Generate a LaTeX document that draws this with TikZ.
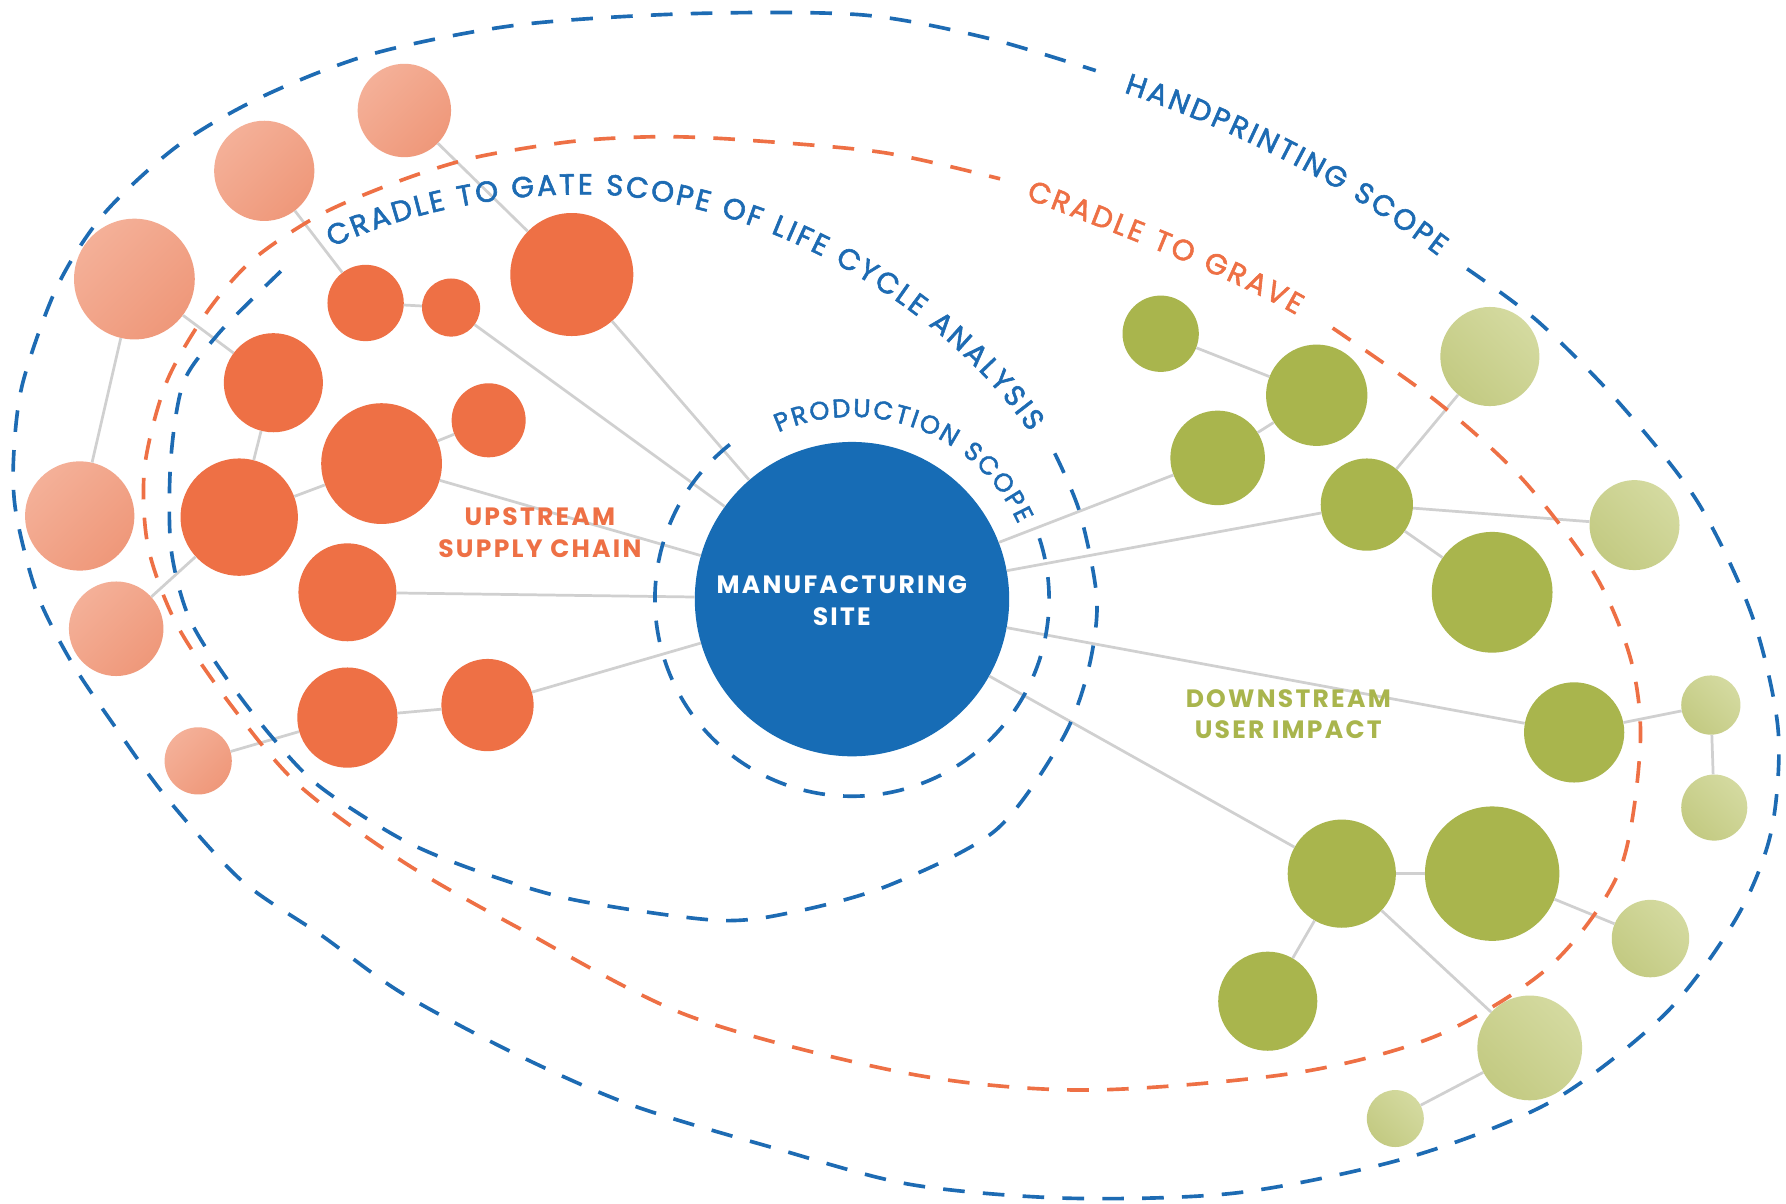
\documentclass[tikz,border=0pt]{standalone}
\usepackage{fontspec}
\usetikzlibrary{decorations.text}
\newfontfamily\poppinsarc{Poppins}[FakeBold=2]
\newfontfamily\poppinswide{Poppins}[LetterSpace=9]
\newcommand\arcfont{\poppinsarc\fontsize{25.5}{25.5}\selectfont\kern2.5pt}
\newcommand\smallarcfont{\poppinsarc\fontsize{22.5}{22.5}\selectfont\kern2.5pt}
\newcommand\labelfont{\poppinswide\bfseries\fontsize{22}{28}\selectfont}

\definecolor{scopeblue}{HTML}{1D6BB3}
\definecolor{siteblue}{HTML}{176CB5}
\definecolor{upred}{HTML}{EE7045}
\definecolor{upsoftA}{HTML}{F4B098}
\definecolor{upsoftB}{HTML}{EF987A}
\definecolor{downgreen}{HTML}{A9B54D}
\definecolor{downsoftA}{HTML}{D4DAA0}
\definecolor{downsoftB}{HTML}{C3CA82}
\definecolor{linkgray}{HTML}{D0D0D0}

\tikzset{
  bubble/.style={circle, inner sep=0pt, draw=none},
  up/.style={bubble, fill=upred},
  upsoft/.style={bubble, top color=upsoftA, bottom color=upsoftB, shading angle=45},
  down/.style={bubble, fill=downgreen},
  downsoft/.style={bubble, top color=downsoftA, bottom color=downsoftB, shading angle=-45},
  link/.style={draw=linkgray, line width=2.4pt},
  scope/.style={line width=3.2pt, dash pattern=on 19pt off 16pt},
  arclabel/.style n args={3}{decorate, decoration={text along path, text={|#2|#3},
      text color=#1, text align=center, raise=-7pt}}
}

\begin{document}
\begin{tikzpicture}[x=1pt, y=-1pt]
\useasboundingbox (0,0) rectangle (1568,1057);
\fill[white] (0,0) rectangle (1568,1057);
\coordinate (hub) at (748,526);

% upstream bubbles
\node[upsoft, minimum size=82pt] (l1) at (355,97) {};
\node[upsoft, minimum size=88pt] (l2) at (232,150) {};
\node[upsoft, minimum size=106pt] (l3) at (118,245) {};
\node[upsoft, minimum size=96pt] (l4) at (70,453) {};
\node[upsoft, minimum size=83pt] (l5) at (102,552) {};
\node[upsoft, minimum size=59pt] (l6) at (174,668) {};
\node[up, minimum size=108pt] (o1) at (502,241) {};
\node[up, minimum size=67pt] (o2) at (321,266) {};
\node[up, minimum size=51pt] (o3) at (396,270) {};
\node[up, minimum size=87pt] (o4) at (240,336) {};
\node[up, minimum size=106pt] (o5) at (335,407) {};
\node[up, minimum size=65pt] (o6) at (429,369) {};
\node[up, minimum size=103pt] (o7) at (210,454) {};
\node[up, minimum size=86pt] (o8) at (305,520) {};
\node[up, minimum size=88pt] (o9) at (305,630) {};
\node[up, minimum size=81pt] (o10) at (428,619) {};

% site
\node[bubble, fill=siteblue, minimum size=276pt] (site) at (hub) {};

% downstream bubbles
\node[down, minimum size=67pt] (g1) at (1019,293) {};
\node[down, minimum size=89pt] (g2) at (1156,347) {};
\node[down, minimum size=83pt] (g3) at (1069,402) {};
\node[down, minimum size=81pt] (g4) at (1200,443) {};
\node[down, minimum size=106pt] (g5) at (1310,520) {};
\node[down, minimum size=88pt] (g6) at (1382,643) {};
\node[down, minimum size=95pt] (g7) at (1178,767) {};
\node[down, minimum size=118pt] (g8) at (1310,767) {};
\node[down, minimum size=87pt] (g9) at (1113,879) {};
\node[downsoft, minimum size=87pt] (lg1) at (1308,313) {};
\node[downsoft, minimum size=79pt] (lg2) at (1435,461) {};
\node[downsoft, minimum size=52pt] (lg3) at (1502,619) {};
\node[downsoft, minimum size=58pt] (lg4) at (1505,709) {};
\node[downsoft, minimum size=68pt] (lg5) at (1449,824) {};
\node[downsoft, minimum size=92pt] (lg6) at (1343,920) {};
\node[downsoft, minimum size=50pt] (lg7) at (1225,982) {};

% links
\draw[link] (l1) -- (o1);
\draw[link] (o1) -- (site);
\draw[link] (l2) -- (o2);
\draw[link] (o2) -- (o3);
\draw[link] (o3) -- (site);
\draw[link] (l3) -- (o4);
\draw[link] (l3) -- (l4);
\draw[link] (o4) -- (o7);
\draw[link] (o7) -- (o5);
\draw[link] (o5) -- (o6);
\draw[link] (o5) -- (site);
\draw[link] (o7) -- (l5);
\draw[link] (o8) -- (site);
\draw[link] (o9) -- (l6);
\draw[link] (o9) -- (o10);
\draw[link] (o10) -- (site);
\draw[link] (site) -- (g3);
\draw[link] (site) -- (g4);
\draw[link] (g3) -- (g2);
\draw[link] (g2) -- (g1);
\draw[link] (g4) -- (lg1);
\draw[link] (g4) -- (lg2);
\draw[link] (g4) -- (g5);
\draw[link] (site) -- (g6);
\draw[link] (g6) -- (lg3);
\draw[link] (lg3) -- (lg4);
\draw[link] (site) -- (g7);
\draw[link] (g7) -- (g8);
\draw[link] (g7) -- (g9);
\draw[link] (g7) -- (lg6);
\draw[link] (g8) -- (lg5);
\draw[link] (lg6) -- (lg7);

% handprinting scope
\draw[scope, scopeblue] plot[smooth] coordinates {(1288,236) (1350,282) (1420,352) (1490,440)
  (1538,540) (1561,640) (1555,730) (1525,805) (1462,890) (1362,967) (1237,1016) (1088,1047)
  (939,1052) (800,1040) (680,1008) (554,970) (454,926) (353,872) (282,821) (212,773)
  (146,700) (101,638) (62,580) (32,520) (14,450) (12,400) (20,336) (50,252) (91,188)
  (156,128) (232,84) (328,47) (454,22) (605,12) (756,13) (865,33) (962,62)};
\path[arclabel={scopeblue}{\arcfont}{HANDPRINTING SCOPE}] (978,71) .. controls (1080,103) and (1192,160) .. (1274,225);

% cradle to grave
\draw[scope, upred] plot[smooth] coordinates {(1170,288) (1262,353) (1336,420) (1400,504)
  (1432,580) (1440,655) (1422,764) (1361,848) (1262,909) (1137,942) (954,957) (800,943)
  (605,892) (454,814) (353,756) (262,689) (202,618) (155,548) (130,480) (127,410)
  (146,336) (181,275) (222,228) (282,188) (353,158) (418,138) (504,124) (580,120)
  (655,123) (776,134) (878,157)};
\path[arclabel={upred}{\arcfont}{CRADLE TO GRAVE}] (898,166) .. controls (972,194) and (1087,238) .. (1144,272);

% cradle to gate
\draw[scope, scopeblue] plot[smooth] coordinates {(926,398) (948,450) (963,527) (955,590)
  (932,650) (874,729) (781,777) (700,800) (630,808) (504,790) (420,765) (353,737)
  (280,690) (237,645) (195,590) (165,540) (150,480) (150,403) (161,336) (190,295)
  (222,262) (255,230)};
\path[arclabel={scopeblue}{\arcfont}{CRADLE TO GATE SCOPE OF LIFE CYCLE ANALYSIS}] (276,217) .. controls (350,178) and (460,158) .. (545,165) .. controls (690,178) and (842,270) .. (916,385);

% production scope
\draw[scope, scopeblue] (hub) ++(18:173pt) arc[start angle=18, end angle=-236, radius=173pt];
\path[arclabel={scopeblue}{\smallarcfont}{PRODUCTION SCOPE}] (hub) ++(120:167pt) arc[start angle=120, end angle=19, radius=167pt];

% labels
\node[font=\labelfont, text=upred, align=center] (upstream) at (474,468) {UPSTREAM\\SUPPLY CHAIN};
\node[font=\labelfont, text=downgreen, align=center] (downstream) at (1131,627) {DOWNSTREAM\\USER IMPACT};
\node[font=\labelfont, text=white, align=center] (sitelabel) at (739,527) {MANUFACTURING\\SITE};
\end{tikzpicture}
\end{document}
